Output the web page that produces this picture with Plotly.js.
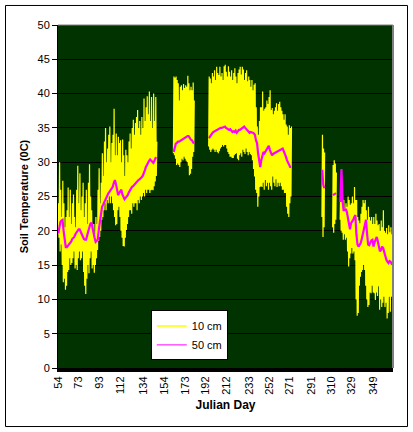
<!DOCTYPE html>
<html>
<head>
<meta charset="utf-8">
<script src="https://cdn.plot.ly/plotly-3.0.1.min.js"></script>
<style>
  html, body { margin: 0; padding: 0; background: #fff; }
  #chart { width: 413px; height: 432px; }
</style>
</head>
<body>
<div id="chart"></div>
<script>
// Julian days with data (gaps = missing data)
const day = [
  54,55,56,57,58,59,60,61,62,63,64,65,66,67,68,69,70,71,72,73,74,75,76,77,78,79,80,81,82,83,
  84,85,86,87,88,89,90,91,92,93,94,95,96,97,98,99,100,101,102,103,104,105,106,107,108,109,110,111,112,113,
  114,115,116,117,118,119,120,121,122,123,124,125,126,127,128,129,130,131,132,133,134,135,136,137,138,139,140,141,142,143,
  144,145,146,
  162,163,164,165,166,167,168,169,170,171,172,173,174,175,176,177,178,179,180,181,
  195,196,197,198,199,200,201,202,203,204,205,206,207,208,209,210,211,212,213,214,
  215,216,217,218,219,220,221,222,223,224,225,226,227,228,229,230,231,232,233,234,
  235,236,237,238,239,240,241,242,243,244,245,246,247,248,249,250,251,252,253,254,
  255,256,257,258,259,260,261,262,263,264,265,266,267,268,269,270,271,272,
  301,302,303,
  311,312,313,314,
  318,319,320,321,322,323,324,325,326,327,328,329,330,331,332,333,334,335,336,337,
  338,339,340,341,342,343,344,345,346,347,348,349,350,351,352,353,354,355,356,357,
  358,359,360,361,362,363,364,365,366,367
];

// 10 cm depth: daily maximum (deg C)
const t10max = [
  24,30,26,22,27.3,24,20.5,22,23,26.3,
  22,26,21,24,25.3,22,20.5,26,29.5,24,
  28.4,23,25,27,22,24,26,21,27,29.7,
  25,23,20,21,19.5,22,21,26,29.1,24,
  27,31.3,28,33,35,30,32,34,35.2,30,
  32.8,34,37.8,31,34.2,31,33.7,32.8,33.2,30,
  33.3,31,28,31.8,31,30,33,34.2,32,35,
  36.2,34,35.7,36.6,37.6,35,36,34,36.6,35,
  39.3,36,38,39.6,37,40.3,36,39.5,35,40,
  36,39.5,33,
  42.5,42.3,42.5,42,41.5,39,41,41.2,40.5,41.4,40.8,41.2,41,42.6,41.5,40.5,41,40.5,41.6,39,
  42.5,42.2,41.5,43,42.5,43.4,42,43.9,43,42.7,
  43.9,42.5,43,42,44,44.2,43.2,42.5,44,43.2,
  42.5,43.4,42,43,43.7,42.5,41.5,43,43.5,43.9,
  42.8,43.9,43.5,42,43,43.4,41.8,42.5,42,41,
  42,40.5,41.3,41.5,38,35.2,34,36,38,38,
  40.3,37.5,37.8,38,39,38.5,39.5,40.5,37.6,37.9,
  37,37.5,38,38.6,37.5,38.5,38.8,38,37.5,37,
  36.2,37,35.5,35.2,34,35.4,35,35.2,
  34,32,31.4,
  29.6,30.3,29.8,28.5,
  25.8,25.5,24.3,24.5,23.3,24,23.5,25,24.5,23.8,
  24,25,24,26.4,24.5,24.5,22,21.5,21.1,22.5,
  23.5,24.5,24,24.5,23,21.6,23.5,22,21.5,22,
  21,22,21,22.5,21.5,20.8,21,20,21.5,20.5,
  23,20,19.7,20.4,19.5,20.8,19.8,20.5,19.5,20
];

// 10 cm depth: daily minimum (deg C)
const t10min = [
  19.5,19,17,18,15,12.5,13,11.4,12,14,
  14.3,16,15,15.3,16,17,14.5,15,14.3,16,
  17,15.7,16,17,14,12,10.8,13,15,13.8,
  16,17,14.5,15,13.9,15,16,17.2,18.5,19.1,
  20,21.6,22,23,24,23,24.5,24,25,24,
  25,24,23,22,20.8,21,23,23.5,22,20,
  19,17.8,17.7,19,20.1,21,22,23,23,22.5,
  24,23.5,24,24,23,24.5,24,25,24.5,25,
  25.5,25,26,25.5,26,26,25.5,25.9,26,25.9,
  26.5,27.2,28,
  31.3,31,30.5,29.6,29.8,29.6,29.3,30,30.5,30.3,30.8,30.5,30.2,30,29.5,28.1,28.3,29,30.8,31.5,
  32.3,31.8,31.5,31.8,32,31.8,31.5,31.8,31.5,31.3,
  31.6,32,32.2,32.5,32.3,32.5,32.5,32,31.5,31.2,
  30.8,30.8,30.6,30.6,31,31.2,31.3,30.5,30.3,31,
  31.3,30.8,31.8,31.5,31.2,32,31.5,31,31.5,31.2,
  31,30.3,29,27.9,26,25.5,23.5,25,26.4,26.5,
  26.4,27,26,27.4,26.5,27,26,27,26.5,26,
  27.9,27,26.5,27.5,26.4,27,26.5,27,26.5,26,
  26,25.5,25.5,23.5,22.5,22,24,25,
  22,19.1,20.5,
  20.5,19.7,21,21.6,
  21.6,20,19.7,18.7,19.5,18.7,19,17,14.8,16,
  16.7,17.5,16.7,17,15.7,10,7.6,8,12,13.3,
  14,14.3,15,14.3,12,10,8.9,9.2,11,10.9,
  12,11,10.9,9.9,11,10.5,11.9,8.5,10,8.9,
  9.5,10.4,8.9,9.5,7.2,8,10.4,8.2,10.4,11
];

// 50 cm depth (deg C)
const t50 = [
  19.6,20.5,21.3,21.5,21.6,20,18.5,17.6,17.6,17.8,
  18,18.2,18.4,18.8,19,19.1,19.5,19.8,20.1,20.2,
  20.2,19.8,19.3,18.9,18.8,18.7,18.7,19.3,20,20.6,
  21,21.2,20.3,19.6,19,18.4,18.5,18.7,20.2,21.6,
  22.5,23.5,23.8,24.2,24.5,24.9,25.3,25.5,25.7,26,
  26.2,26.4,27,27.4,26.8,26,25.2,25.5,25.8,26,
  25.3,24.8,24.6,24.8,25,25.2,25.6,25.9,26.2,26.4,
  26.5,26.7,26.9,27.1,27.2,27.4,27.5,27.6,27.8,28,
  28.3,28.8,29.3,29.7,30,30.2,30.4,30.2,30,29.9,
  30.2,30.6,30.7,
  31.5,32.3,32.7,32.8,33,33,33.1,33.2,33.4,33.5,33.5,33.6,33.7,33.8,33.8,33.5,33.3,33.2,32.9,32.7,
  33.5,33.8,34,34.2,34.4,34.5,34.6,34.7,34.8,34.8,
  34.9,35,35,35.1,35.1,35.2,35,34.9,34.9,34.7,
  34.8,34.5,34.4,34.5,34.4,34.6,34.3,34.5,34.7,34.7,
  34.8,35,35.1,35.2,35,34.8,34.6,34.5,34.3,34.4,
  34.4,34.3,34.2,34,33.2,32.8,31.3,30.3,29.3,30.3,
  31,31.5,31.3,31.6,31.8,32.1,32.4,31.8,31.5,31,
  31.2,31.3,31.4,31.4,31.5,31.6,31.7,31.8,32,32,
  31.6,31,30.8,30.3,30,29.6,29.3,29.3,
  28.9,26.7,26.2,
  25.2,25.3,25.5,25.5,
  24.2,29,24.5,23,23,23.2,22.8,22,21,20.2,
  21.1,21.3,21.6,22,22.3,19.5,18,17.7,17.9,18.2,
  18.8,19.5,20.1,21,21.6,19.5,18,17.9,18.3,18.6,
  18.7,17.7,18.3,18.8,19.1,18.5,17.8,17,17.2,17.7,
  17.5,16.8,16.2,15.8,15.5,15.3,15.6,15.5,15.2,15.3
];

// x-axis tick labels (Julian day)
const xTickDays = [54,73,93,112,134,154,173,192,212,233,252,271,291,310,329,349];
const seriesNames = ['10 cm', '50 cm'];
const seriesColors = ['#ffff00', '#ff00ff'];

// Build traces: 10 cm as daily min/max swings, 50 cm as a line; null breaks across gaps
const x10 = [], y10 = [], x50 = [], y50 = [];
for (let i = 0; i < day.length; i++) {
  if (i > 0 && day[i] - day[i - 1] > 1) {
    x10.push(null); y10.push(null);
    x50.push(null); y50.push(null);
  }
  x10.push(day[i]); y10.push(t10min[i]);
  x10.push(day[i] + 0.5); y10.push(t10max[i]);
  x50.push(day[i] + 0.25); y50.push(t50[i]);
}

const traces = [
  { x: x10, y: y10, type: 'scatter', mode: 'lines', name: seriesNames[0], showlegend: false,
    line: { color: seriesColors[0], width: 1.2 }, connectgaps: false, hoverinfo: 'skip' },
  { x: x50, y: y50, type: 'scatter', mode: 'lines', name: seriesNames[1], showlegend: false,
    line: { color: seriesColors[1], width: 2.2 }, connectgaps: false, hoverinfo: 'skip' },
  // legend entries with thin sample lines, as in the original
  { x: [null], y: [null], type: 'scatter', mode: 'lines', name: seriesNames[0],
    line: { color: seriesColors[0], width: 1.5 }, hoverinfo: 'skip' },
  { x: [null], y: [null], type: 'scatter', mode: 'lines', name: seriesNames[1],
    line: { color: seriesColors[1], width: 1 }, hoverinfo: 'skip' }
];

const FONT = 'Arial, "Liberation Sans", sans-serif';
const layout = {
  width: 413, height: 432,
  margin: { l: 58, r: 20, t: 25, b: 64, pad: 0 },
  paper_bgcolor: '#ffffff',
  plot_bgcolor: '#003300',
  font: { family: FONT, size: 11, color: '#000' },
  showlegend: true,
  legend: {
    x: 0.277, y: 0.168, xanchor: 'left', yanchor: 'top',
    bgcolor: '#ffffff', bordercolor: '#000', borderwidth: 1,
    font: { family: FONT, size: 11, color: '#000' },
    itemwidth: 30, tracegroupgap: 0
  },
  xaxis: {
    range: [54, 367.5],
    tickmode: 'array', tickvals: xTickDays, ticktext: xTickDays.map(String),
    tickangle: -90, showgrid: false, zeroline: false,
    showline: true, linecolor: '#000', linewidth: 4,
    ticks: '', tickfont: { family: FONT, size: 11, color: '#000' },
    title: { text: '<b>Julian Day</b>', font: { family: FONT, size: 12, color: '#000' }, standoff: 8 },
    fixedrange: true
  },
  yaxis: {
    range: [0, 50], tick0: 0, dtick: 5,
    showgrid: true, gridcolor: '#000', gridwidth: 1, zeroline: false,
    showline: true, linecolor: '#000', linewidth: 1,
    ticks: 'outside', ticklen: 5, tickcolor: '#000', tickwidth: 1,
    tickfont: { family: FONT, size: 11, color: '#000' },
    title: { text: '<b>Soil Temperature (0C)</b>', font: { family: FONT, size: 11, color: '#000' }, standoff: 6 },
    fixedrange: true
  },
  shapes: [
    { type: 'line', xref: 'paper', yref: 'paper', x0: 0, x1: 1, y0: 1, y1: 1,
      line: { color: '#808080', width: 1 }, layer: 'above' },
    { type: 'line', xref: 'paper', yref: 'paper', x0: 1, x1: 1, y0: 0, y1: 1,
      line: { color: '#808080', width: 2 }, layer: 'above' },
    { type: 'rect', xref: 'paper', yref: 'paper',
      x0: -0.1567, x1: 1.0433, y0: -0.1706, y1: 1.0569,
      line: { color: '#000', width: 1 }, fillcolor: 'rgba(0,0,0,0)', layer: 'below' }
  ]
};

Plotly.newPlot('chart', traces, layout, { displayModeBar: false, staticPlot: true });
</script>
</body>
</html>
